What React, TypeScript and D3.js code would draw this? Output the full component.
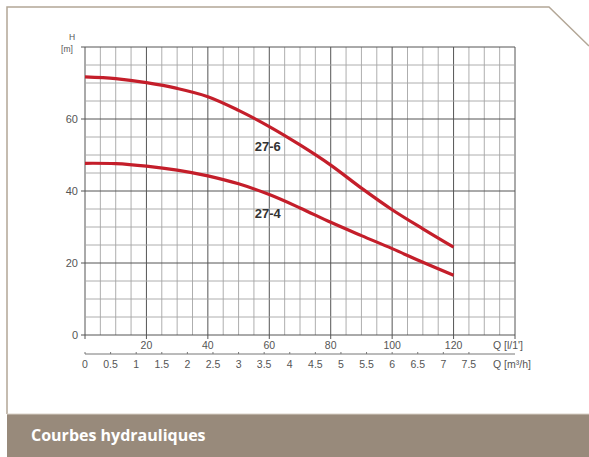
import React from 'react';
import * as d3 from 'd3';

// flow Q [l/min] and head H [m]
const flow = [0, 10, 20, 30, 40, 50, 60, 70, 80, 90, 100, 110, 120];
const head276 = [71.7, 71.2, 70.1, 68.5, 66.2, 62.4, 57.9, 52.8, 47.2, 40.8, 34.8, 29.5, 24.4];
const head274 = [47.7, 47.6, 46.9, 45.8, 44.2, 42.0, 39.0, 35.3, 31.3, 27.6, 24.0, 20.2, 16.6];
const series = [
  { name: '27-6', values: head276, labelQ: 59.5, labelH: 51.2 },
  { name: '27-4', values: head274, labelQ: 59.5, labelH: 32.6 },
];
const yTicks = [0, 20, 40, 60];
const qTicks = [20, 40, 60, 80, 100, 120];
const m3hTicks = [0, 0.5, 1, 1.5, 2, 2.5, 3, 3.5, 4, 4.5, 5, 5.5, 6, 6.5, 7, 7.5];

const W = 589;
const H = 457;

export default function App() {
  const x = d3.scaleLinear().domain([0, 140]).range([85, 515]);
  const y = d3.scaleLinear().domain([0, 80]).range([335, 47]);
  // 1 m3/h = 1000/60 l/min
  const xm = (v: number) => x((v * 1000) / 60);

  const minorX = d3.range(0, 141, 5);
  const minorY = d3.range(0, 81, 5);

  const line = d3
    .line<number>()
    .x((_, i) => x(flow[i]))
    .y((d) => y(d))
    .curve(d3.curveCatmullRom.alpha(0.5));

  const frame = '#b3a797';
  const axisText = '#555';

  return (
    <svg width={W} height={H} style={{ position: 'absolute', left: 0, top: 0, background: '#fff' }}>
      {/* frame */}
      <polyline points="7,414 7,7 549,7 589,46" fill="none" stroke={frame} strokeWidth={1.5} />
      <rect x={7} y={414} width={W - 7} height={H - 414} fill="#988a7b" />
      <line x1={7} x2={W} y1={414} y2={414} stroke="#d8d0c6" strokeWidth={1} />
      <text x={31} y={441} fill="#fff" fontFamily="Open Sans" fontWeight={700} fontSize={16}>
        Courbes hydrauliques
      </text>

      {/* grid */}
      <g>
        {minorX.map((v) => (
          <line key={'vx' + v} x1={x(v)} x2={x(v)} y1={y(80)} y2={y(0) + (v % 20 === 0 ? 4 : 0)}
            stroke={v % 20 === 0 ? '#555' : '#a5a5a5'} strokeWidth={v % 20 === 0 ? 1 : 0.9} />
        ))}
        {minorY.map((v) => (
          <line key={'hy' + v} x1={x(0) - (v % 20 === 0 ? 4 : 0)} x2={x(140)} y1={y(v)} y2={y(v)}
            stroke={v % 20 === 0 ? '#555' : '#a5a5a5'} strokeWidth={v % 20 === 0 ? 1 : 0.9} />
        ))}
      </g>

      {/* y axis labels */}
      <g fontFamily="Liberation Sans, Arial" fontSize={11} fill={axisText}>
        {yTicks.map((v) => (
          <text key={v} x={78} y={y(v) + 4} textAnchor="end">{v}</text>
        ))}
        <text x={72} y={40} textAnchor="middle" fontSize={8.5}>H</text>
        <text x={67} y={52} textAnchor="middle" fontSize={8.5}>[m]</text>
      </g>

      {/* Q l/min axis */}
      <g fontFamily="Liberation Sans, Arial" fontSize={10.5} fill={axisText}>
        {qTicks.map((v) => (
          <text key={v} x={x(v)} y={349} textAnchor="middle">{v}</text>
        ))}
        <text x={493} y={349}>Q [l/1']</text>
      </g>

      {/* Q m3/h axis */}
      <line x1={x(0)} x2={x(140)} y1={354} y2={354} stroke="#777" strokeWidth={1} />
      <g fontFamily="Liberation Sans, Arial" fontSize={10.5} fill={axisText}>
        {m3hTicks.map((v) => (
          <g key={v}>
            <line x1={xm(v)} x2={xm(v)} y1={352} y2={354} stroke="#777" />
            <text x={xm(v)} y={368} textAnchor="middle">{v}</text>
          </g>
        ))}
        <text x={493} y={368}>Q [m³/h]</text>
      </g>

      {/* curves */}
      {series.map((s) => (
        <g key={s.name}>
          <path d={line(s.values) || ''} fill="none" stroke="#c41e2a" strokeWidth={3.2} strokeLinecap="butt" />
          <text x={x(s.labelQ)} y={y(s.labelH)} textAnchor="middle" fontFamily="Liberation Sans, Arial"
            fontWeight="bold" fontSize={13} fill="#333">{s.name}</text>
        </g>
      ))}
    </svg>
  );
}
